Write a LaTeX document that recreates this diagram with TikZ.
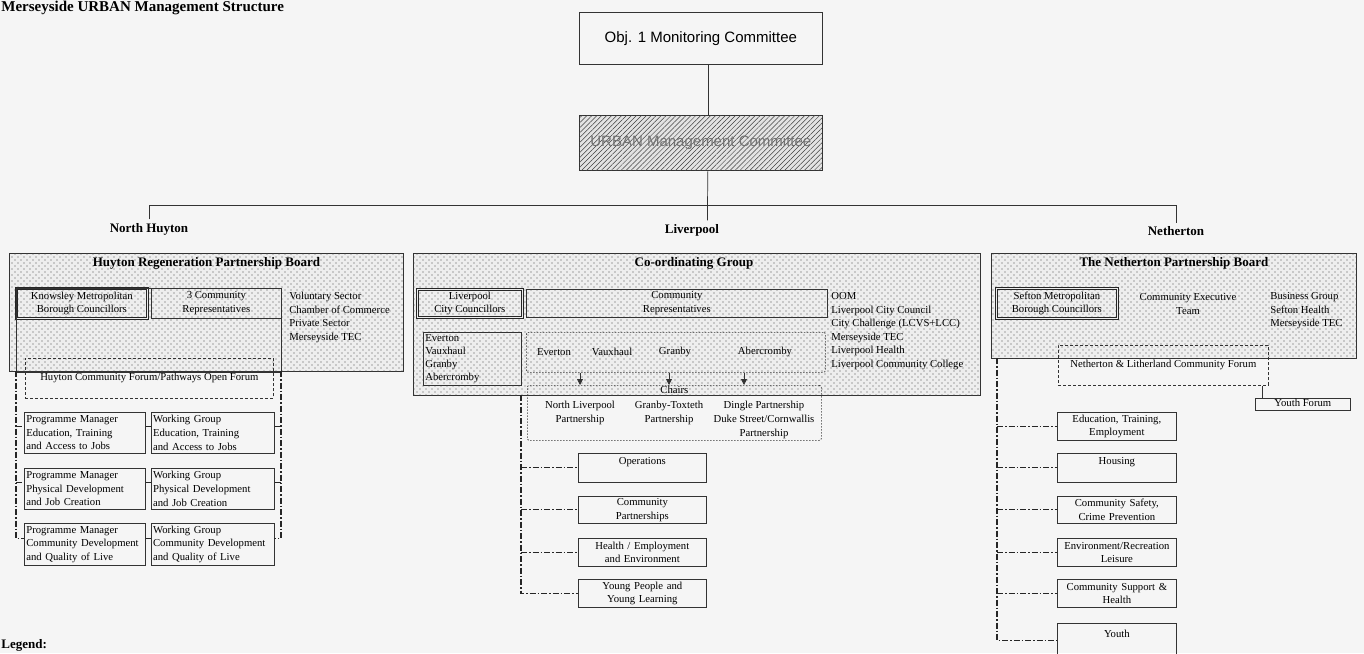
\documentclass[tikz,border=0pt]{standalone}
\usepackage{fontspec}
\setmainfont{Liberation Serif}
\newfontfamily\arialfont{Liberation Sans}
\usetikzlibrary{patterns.meta,arrows.meta,positioning}
\newcommand\sbfont{\fontsize{10.7pt}{13.6pt}\selectfont}
\newcommand\hdfont{\fontsize{13pt}{15pt}\selectfont\bfseries}
\newcommand\ttlfont{\fontsize{15pt}{18pt}\selectfont\bfseries}
\newcommand\arfont{\arialfont\fontsize{15pt}{18pt}\selectfont}

\begin{document}
\begin{tikzpicture}[
    x=1pt, y=-1pt,
    line width=0.7pt, draw=black!80,
    topbox/.style={rectangle, draw=black!80, anchor=north west, font=\arfont, minimum width=243pt},
    board/.style={rectangle, draw=black!80, line width=0.9pt, anchor=north west, fill=gray!13,
        postaction={pattern={Dots[distance=6pt,radius=0.65pt]}, pattern color=black!70},
        postaction={pattern={Dots[distance=6pt,radius=0.65pt,xshift=3pt,yshift=3pt]}, pattern color=black!70}},
    member/.style={rectangle, draw=black!85, double=gray!15, double distance=1pt, anchor=north west, align=center, font=\sbfont, inner sep=1pt},
    plainbox/.style={rectangle, draw=black!80, anchor=north west, align=center, font=\sbfont, inner sep=1pt},
    forum/.style={rectangle, draw=black!80, densely dashed, anchor=north west, font=\sbfont},
    chairbox/.style={rectangle, draw=black!80, dash pattern=on 1.5pt off 1.5pt, rounded corners=2pt, anchor=north west},
    pmbox/.style={rectangle, draw=black!80, anchor=north west, align=left, font=\sbfont, inner sep=2pt, text width=117pt, minimum height=41pt},
    subbox/.style={rectangle, draw=black!80, anchor=north west, align=center, font=\sbfont, inner sep=2pt, text width=124pt},
    linkline/.style={draw=black!85, line width=1.2pt, dash pattern=on 6pt off 2pt on 1.5pt off 2pt},
    arr/.style={-{Triangle[length=6pt,width=6pt]}, line width=0.8pt}
]
\fill[gray!8] (0,0) rectangle (1364,653);
\useasboundingbox (0,0) rectangle (1364,653);

\node[anchor=base west, font=\ttlfont, inner sep=0pt] (title) at (1,12) {Merseyside URBAN Management Structure};

\node[topbox, minimum height=52pt] (obj) at (579,12) {Obj. 1 Monitoring Committee};
\node[topbox, minimum height=55pt, text=black!55, fill=gray!22,
    postaction={pattern={Lines[angle=45,distance=3.5pt,line width=0.5pt]}, pattern color=black!75}] (urban) at (579,115) {URBAN Management Committee};
\draw ([xshift=7pt]obj.south) -- ([xshift=7pt]urban.north);

\coordinate (bar) at (707.5,205);
\node[font=\hdfont] (nhlabel) at (149,229) {North Huyton};
\node[font=\hdfont] (lvlabel) at (692,230) {Liverpool};
\node[font=\hdfont] (nelabel) at (1176,231) {Netherton};
\draw ([xshift=7pt]urban.south) -- (bar) -- (bar |- lvlabel.north);
\draw (nhlabel.north) -- (nhlabel.north |- bar) -- (nelabel.north |- bar) -- (nelabel.north);

% North Huyton
\node[board, minimum width=394pt, minimum height=118pt] (nhboard) at (9,253) {};
\node[font=\hdfont, below=1pt of nhboard.north] (nhtitle) {Huyton Regeneration Partnership Board};
\node[member, minimum width=131pt, minimum height=30pt] (knowsley) at (16,288) {Knowsley Metropolitan\\Borough Councillors};
\node[plainbox, minimum width=130pt, minimum height=30pt] (comreps) at (151,288) {3 Community\\Representatives};
\draw (knowsley.north west) rectangle (comreps.east |- nhboard.south);
\node[anchor=north west, align=left, font=\sbfont, inner sep=0pt] (nhpartners) at (289,292) {Voluntary Sector\\Chamber of Commerce\\Private Sector\\Merseyside TEC};
\node[forum, minimum width=248pt, minimum height=40pt] (nhforum) at (25,358) {Huyton Community Forum/Pathways Open Forum};
\coordinate (nhspinel) at (16,371);
\coordinate (nhspiner) at (281,371);

\node[pmbox] (pmedu) at (24,412) {Programme Manager\\Education, Training\\and Access to Jobs};
\node[pmbox, text width=119pt, right=5pt of pmedu] (wgedu) {Working Group\\Education, Training\\and Access to Jobs};
\node[pmbox] (pmphys) at (24,468) {Programme Manager\\Physical Development\\and Job Creation};
\node[pmbox, text width=119pt, right=5pt of pmphys] (wgphys) {Working Group\\Physical Development\\and Job Creation};
\node[pmbox, minimum height=42pt] (pmcomm) at (24,523) {Programme Manager\\Community Development\\and Quality of Live};
\node[pmbox, minimum height=42pt, text width=119pt, right=5pt of pmcomm] (wgcomm) {Working Group\\Community Development\\and Quality of Live};

\draw[linkline] (nhspinel) |- ([yshift=6pt]pmcomm.west);
\draw[linkline] ([yshift=6pt]pmedu.west -| nhspinel) -- ([yshift=6pt]pmedu.west);
\draw[linkline] ([yshift=6pt]pmphys.west -| nhspinel) -- ([yshift=6pt]pmphys.west);
\draw[linkline] (nhspiner) |- ([yshift=6pt]wgcomm.east);
\draw[linkline] ([yshift=6pt]wgedu.east -| nhspiner) -- ([yshift=6pt]wgedu.east);
\draw[linkline] ([yshift=6pt]wgphys.east -| nhspiner) -- ([yshift=6pt]wgphys.east);
\draw[linkline] ([yshift=6pt]pmedu.east) -- ([yshift=6pt]wgedu.west);
\draw[linkline] ([yshift=6pt]pmphys.east) -- ([yshift=6pt]wgphys.west);
\draw[linkline] ([yshift=6pt]pmcomm.east) -- ([yshift=6pt]wgcomm.west);

% Liverpool
\node[board, minimum width=567pt, minimum height=142pt] (lvboard) at (413,253) {};
\node[font=\hdfont, below=1pt of lvboard.north, xshift=-3pt] (lvtitle) {Co-ordinating Group};
\node[member, minimum width=105pt, minimum height=28pt] (lvcouncil) at (417,289) {Liverpool\\City Councillors};
\node[plainbox, minimum width=301pt, minimum height=28pt] (lvreps) at (526,289) {Community\\Representatives};
\node[plainbox, align=left, text width=94pt, inner sep=2pt, minimum height=53pt,
    font=\fontsize{10.7pt}{13pt}\selectfont] (lvwards) at (423,332) {Everton\\Vauxhaul\\Granby\\Abercromby};
\node[chairbox, minimum width=299pt, minimum height=40pt] (lvrow) at (526,332) {};
\node[font=\sbfont] (everton) at (554,352) {Everton};
\node[font=\sbfont] (vauxhaul) at (612,352) {Vauxhaul};
\node[font=\sbfont] (granby) at (675,352) {Granby};
\node[font=\sbfont] (abercromby) at (765,352) {Abercromby};
\node[anchor=north west, align=left, font=\sbfont, inner sep=0pt] (lvpartners) at (831,292) {OOM\\Liverpool City Council\\City Challenge (LCVS+LCC)\\Merseyside TEC\\Liverpool Health\\Liverpool Community College};

\node[chairbox, minimum width=294pt, minimum height=55pt] (chairs) at (527,385) {};
\node[font=\sbfont, inner sep=1pt, below=0pt of chairs.north] (chairlbl) {Chairs};
\node[font=\sbfont, align=center] (nlp) at (580,413) {North Liverpool\\Partnership};
\node[font=\sbfont, align=center] (gtp) at (669,413) {Granby-Toxteth\\Partnership};
\node[font=\sbfont, align=center] (dingle) at (764,420) {Dingle Partnership\\Duke Street/Cornwallis\\Partnership};
\draw[arr] (lvrow.south -| nlp) -- (chairs.north -| nlp);
\draw[arr] (lvrow.south -| gtp) -- (chairs.north -| gtp);
\draw[arr] ([xshift=-20pt]lvrow.south -| dingle) -- ([xshift=-20pt]chairs.north -| dingle);

\coordinate (lvspine) at (521,395);
\node[subbox, minimum height=29pt] (ops) at (578,453) {Operations\\\mbox{}};
\node[subbox, minimum height=27pt] (cpart) at (578,496) {Community\\Partnerships};
\node[subbox, minimum height=28pt] (health) at (578,538) {Health / Employment\\and Environment};
\node[subbox, minimum height=28pt] (young) at (578,579) {Young People and\\Young Learning};
\draw[linkline] (lvspine) |- (young.west);
\draw[linkline] (ops.west -| lvspine) -- (ops.west);
\draw[linkline] (cpart.west -| lvspine) -- (cpart.west);
\draw[linkline] (health.west -| lvspine) -- (health.west);

% Netherton
\node[board, minimum width=365pt, minimum height=105pt] (neboard) at (991,253) {};
\node[font=\hdfont, below=1pt of neboard.north] (netitle) {The Netherton Partnership Board};
\node[member, minimum width=121pt, minimum height=30pt] (sefton) at (996,288) {Sefton Metropolitan\\Borough Councillors};
\node[font=\sbfont, align=center] (cexec) at (1188,304) {Community Executive\\Team};
\node[anchor=north west, align=left, font=\sbfont, inner sep=0pt] (nepartners) at (1270,292) {Business Group\\Sefton Health\\Merseyside TEC};
\node[forum, minimum width=210pt, minimum height=40pt] (neforum) at (1058,345) {Netherton \& Litherland Community Forum};
\node[plainbox, minimum width=95pt, minimum height=12pt, inner sep=0pt, text height=7pt, text depth=2pt] (youthforum) at (1255,398) {Youth Forum};
\draw ([xshift=7pt]youthforum.north west) -- ([xshift=7pt]youthforum.north west |- neforum.south);

\coordinate (nespine) at (997,358);
\node[subbox, text width=115pt, minimum height=28pt] (edu) at (1057,412) {Education, Training,\\Employment};
\node[subbox, text width=115pt, minimum height=29pt] (housing) at (1057,453) {Housing\\\mbox{}};
\node[subbox, text width=115pt, minimum height=27pt] (safety) at (1057,496) {Community Safety,\\Crime Prevention};
\node[subbox, text width=115pt, minimum height=28pt] (envir) at (1057,538) {Environment/Recreation\\Leisure};
\node[subbox, text width=115pt, minimum height=28pt] (support) at (1057,579) {Community Support \&\\Health};
\node[subbox, text width=115pt, minimum height=34pt] (youth) at (1057,623) {Youth\\\mbox{}};
\draw[linkline] (nespine) |- (youth.west);
\draw[linkline] (edu.west -| nespine) -- (edu.west);
\draw[linkline] (housing.west -| nespine) -- (housing.west);
\draw[linkline] (safety.west -| nespine) -- (safety.west);
\draw[linkline] (envir.west -| nespine) -- (envir.west);
\draw[linkline] (support.west -| nespine) -- (support.west);

\node[anchor=base west, font=\hdfont, inner sep=0pt] (legend) at (1,648) {Legend:};
\end{tikzpicture}
\end{document}
